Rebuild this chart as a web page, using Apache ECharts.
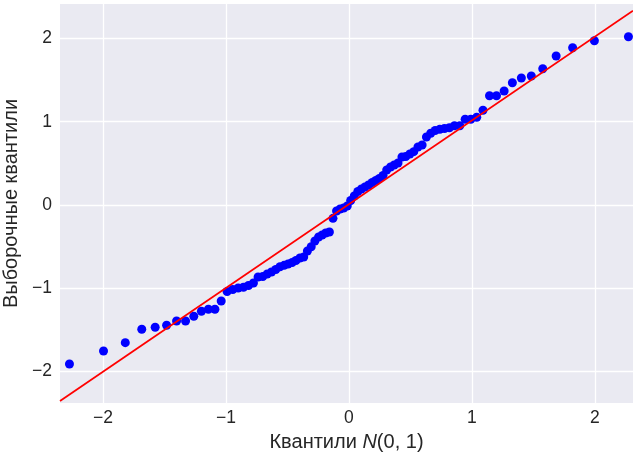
<!DOCTYPE html>
<html>
<head>
<meta charset="utf-8">
<script src="https://cdn.jsdelivr.net/npm/echarts@6/dist/echarts.min.js"></script>
<style>
  html, body { margin: 0; padding: 0; background: #ffffff; }
  #chart { width: 633px; height: 453px; }
</style>
</head>
<body>
<div id="chart"></div>
<script>
const theoretical = [
  -2.273, -1.996, -1.819, -1.685, -1.576, -1.483, -1.402, -1.329, -1.262, -1.200,
  -1.143, -1.090, -1.039, -0.991, -0.945, -0.901, -0.858, -0.817, -0.777, -0.739,
  -0.701, -0.665, -0.630, -0.595, -0.561, -0.527, -0.495, -0.462, -0.431, -0.399,
  -0.368, -0.338, -0.307, -0.277, -0.247, -0.218, -0.189, -0.159, -0.130, -0.101,
  -0.072, -0.043, -0.014, 0.014, 0.043, 0.072, 0.101, 0.130, 0.159, 0.189,
  0.218, 0.247, 0.277, 0.307, 0.338, 0.368, 0.399, 0.431, 0.462, 0.495,
  0.527, 0.561, 0.595, 0.630, 0.665, 0.701, 0.739, 0.777, 0.817, 0.858,
  0.901, 0.945, 0.991, 1.039, 1.090, 1.143, 1.200, 1.262, 1.329, 1.402,
  1.483, 1.576, 1.685, 1.819, 1.996, 2.273
]

// sample quantiles (sorted sample)
const sample = [
  -1.909, -1.753, -1.653, -1.492, -1.468, -1.444, -1.393, -1.393, -1.336, -1.276,
  -1.252, -1.252, -1.152, -1.038, -1.014, -0.996, -0.988, -0.966, -0.936, -0.864,
  -0.858, -0.828, -0.804, -0.774, -0.741, -0.724, -0.708, -0.690, -0.666, -0.636,
  -0.624, -0.552, -0.501, -0.432, -0.384, -0.360, -0.336, -0.324, -0.160, -0.072,
  -0.048, -0.036, -0.012, 0.054, 0.108, 0.162, 0.192, 0.216, 0.240, 0.270,
  0.294, 0.318, 0.354, 0.420, 0.456, 0.480, 0.504, 0.576, 0.582, 0.612,
  0.640, 0.696, 0.720, 0.816, 0.861, 0.894, 0.909, 0.918, 0.928, 0.952,
  0.952, 1.029, 1.029, 1.053, 1.137, 1.312, 1.312, 1.369, 1.468, 1.525,
  1.549, 1.636, 1.789, 1.888, 1.972, 2.020
]

// fitted reference line y = slope * x + intercept
const lineSlope = 1.005
const lineIntercept = 0.01

const xTicks = [-2, -1, 0, 1, 2]
const yTicks = [-2, -1, 0, 1, 2]
const xRange = [-2.35, 2.31]
const yRange = [-2.377, 2.413]

const fmt = v => (v < 0 ? '\u2212' + Math.abs(v) : String(v))

const chart = echarts.init(document.getElementById('chart'))

const font = "'Liberation Sans', Arial, sans-serif"
const txt = '#262626'

chart.setOption({
  animation: false,
  backgroundColor: '#ffffff',
  grid: {
    left: 60, right: 0, top: 4, bottom: 50,
    outerBoundsMode: 'none',
    containLabel: false,
    show: true, backgroundColor: '#eaeaf2', borderWidth: 0
  },
  xAxis: {
    type: 'value',
    min: xRange[0], max: xRange[1],
    name: 'Квантили {i|N}(0, 1)',
    nameLocation: 'middle',
    nameGap: 29,
    nameTextStyle: {
      color: txt, fontSize: 20, fontFamily: font,
      rich: { i: { fontStyle: 'italic', fontSize: 20, fontFamily: font, color: txt } }
    },
    axisLine: { show: false },
    axisTick: { show: false, customValues: xTicks },
    axisLabel: {
      customValues: xTicks, formatter: fmt,
      color: txt, fontSize: 17.5, fontFamily: font, margin: 6
    },
    splitLine: { show: true, lineStyle: { color: '#ffffff', width: 1.3 } }
  },
  yAxis: {
    type: 'value',
    min: yRange[0], max: yRange[1],
    name: 'Выборочные квантили',
    nameLocation: 'middle',
    nameGap: 31,
    nameTextStyle: { color: txt, fontSize: 20, fontFamily: font },
    axisLine: { show: false },
    axisTick: { show: false, customValues: yTicks },
    axisLabel: {
      customValues: yTicks, formatter: fmt,
      color: txt, fontSize: 17.5, fontFamily: font, margin: 8
    },
    splitLine: { show: true, lineStyle: { color: '#ffffff', width: 1.3 } }
  },
  series: [
    {
      type: 'scatter',
      data: theoretical.map((x, i) => [x, sample[i]]),
      symbol: 'circle',
      symbolSize: 9,
      itemStyle: { color: '#0000ff', opacity: 1 },
      z: 2
    },
    {
      type: 'line',
      data: xRange.map(x => [x, lineSlope * x + lineIntercept]),
      showSymbol: false,
      lineStyle: { color: '#ff0000', width: 1.8 },
      clip: true,
      z: 3
    }
  ]
})
</script>
</body>
</html>
